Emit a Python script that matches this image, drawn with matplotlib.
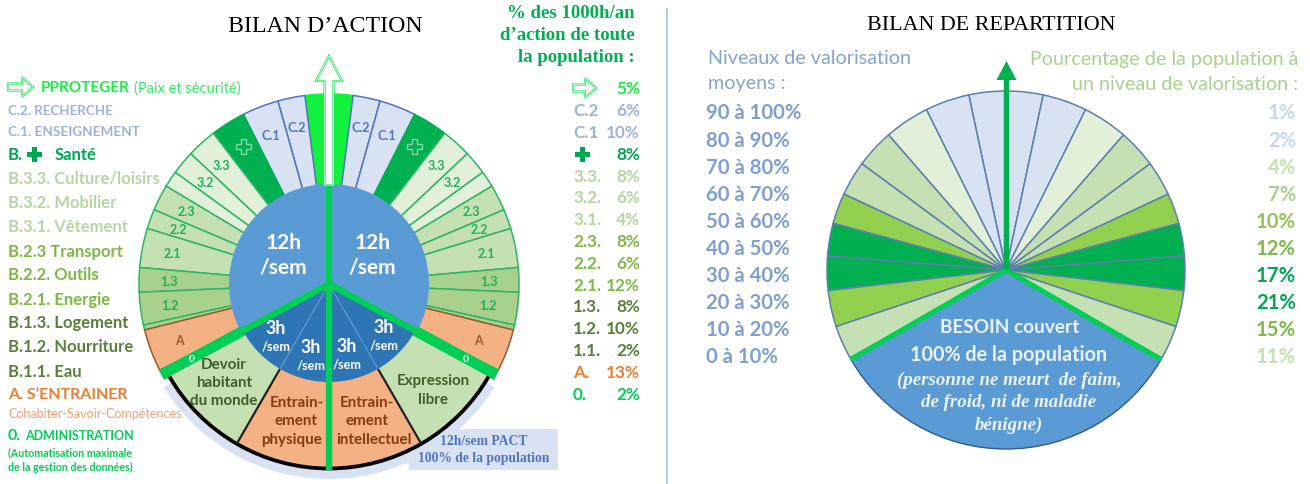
import numpy as np
import matplotlib
matplotlib.use('Agg')
import matplotlib.pyplot as plt
from matplotlib.patches import Wedge, Rectangle, Polygon, FancyArrow

# left wheel, clockwise from the top, degrees
ring_spans = [7.3, 8.3, 11.2, 10.7, 9.2, 7.3, 5, 8, 6, 12, 7.5, 10, 1.5, 13, 3]
ring_colors = ['#12F23C', '#D9E2F3', '#D9E2F3', '#00B050', '#E2EFD9', '#E2EFD9', '#E2EFD9',
               '#C5E0B3', '#C5E0B3', '#C5E0B3', '#A9D18E', '#A9D18E', '#A9D18E', '#F4B183', '#00CF55']
ring_edges = ['#12F23C', '#4F74C4', '#4F74C4', '#00B050', '#2DB565', '#2DB565', '#2DB565',
              '#2DB565', '#2DB565', '#2DB565', '#2DB565', '#2DB565', '#2DB565', '#9C5A2C', '#00CF55']
ring_labels = ['', 'C.2', 'C.1', '', '3.3', '3.2', '', '2.3', '2.2', '2.1', '1.3', '1.2', '', 'A', '0']
ring_label_colors = ['#000000', '#4F74C4', '#4F74C4', '#000000', '#1FAF5C', '#1FAF5C', '#000000',
                     '#1FAF5C', '#1FAF5C', '#1FAF5C', '#1FAF5C', '#1FAF5C', '#000000', '#9C5A2C', '#FFFFFF']

pact_colors = ['#C5E0B3', '#F4B183', '#F4B183', '#C5E0B3']
pact_lines = [('Expression', 433, 381, '#3F5F2A'), ('libre', 433, 400, '#3F5F2A'),
              ('Entrain-', 367, 403, '#843C0C'), ('ement', 367, 421, '#843C0C'), ('intellectuel', 374, 440, '#843C0C'),
              ('Entrain-', 297, 403, '#843C0C'), ('ement', 296, 421, '#843C0C'), ('physique', 292, 440, '#843C0C'),
              ('Devoir', 224, 365, '#3F5F2A'), ('habitant', 224, 383, '#3F5F2A'), ('du monde', 224, 401, '#3F5F2A')]

legend_rows = ['C.2. RECHERCHE', 'C.1. ENSEIGNEMENT', 'B.', 'B.3.3. Culture/loisirs', 'B.3.2. Mobilier',
               'B.3.1. Vêtement', 'B.2.3 Transport', 'B.2.2. Outils', 'B.2.1. Energie', 'B.1.3. Logement',
               'B.1.2. Nourriture', 'B.1.1. Eau', 'A. S’ENTRAINER']
legend_y = [111, 132, 155, 179, 203, 227, 252, 275, 300, 323, 347, 372, 395]
legend_sizes = [9.6, 9.7, 12, 12, 12, 12, 12, 12, 12, 12, 12, 12, 11.5]
legend_colors = ['#9DB2DE', '#9DB2DE', '#00A651', '#B7D5A3', '#B7D5A3', '#B7D5A3', '#7DB944', '#7DB944',
                 '#7DB944', '#58803A', '#58803A', '#58803A', '#ED7D31']

share_codes = ['', 'C.2', 'C.1', '', '3.3.', '3.2.', '3.1.', '2.3.', '2.2.', '2.1.', '1.3.', '1.2.', '1.1.', 'A.', '0.']
share_values = [5, 6, 10, 8, 8, 6, 4, 8, 6, 12, 8, 10, 2, 13, 2]
share_y = [89, 111, 133, 155, 177, 198, 220, 242, 264, 286, 307, 329, 351, 373, 395]
share_colors = ['#12F23C', '#9DB2DE', '#9DB2DE', '#00A651', '#B7D5A3', '#B7D5A3', '#B7D5A3', '#7DB944',
                '#7DB944', '#7DB944', '#58803A', '#58803A', '#58803A', '#ED7D31', '#00CF55']

# right pie
level_labels = ['90 à 100%', '80 à 90%', '70 à 80%', '60 à 70%', '50 à 60%', '40 à 50%', '30 à 40%',
                '20 à 30%', '10 à 20%', '0 à 10%']
level_values = [1, 2, 4, 7, 10, 12, 17, 21, 15, 11]
level_y = [113, 141, 168, 195, 222, 249, 276, 303, 330, 357]
level_spans = [12, 14.4, 14.6, 12.6, 11.3, 10, 10.6, 11.1, 11.8, 11]
level_colors = ['#D9E2F3', '#D9E2F3', '#E2EFD9', '#C5E0B3', '#C5E0B3', '#92D050', '#00B050', '#00B050',
                '#92D050', '#C5E0B3']
value_colors = ['#C7D6EE', '#C7D6EE', '#C5E0B3', '#A9D18E', '#92C353', '#7DB944', '#00A651', '#00A651',
                '#7DB944', '#C5E0B3']

SANS = 'Lato'
SERIF = 'Liberation Serif'
GREEN = '#00B050'
LAV = '#D9E2F3'

fig = plt.figure(figsize=(13.1, 4.85), dpi=100)
ax = fig.add_axes([0, 0, 1, 1])
ax.set_xlim(0, 1310)
ax.set_ylim(485, 0)
ax.axis('off')


def wedge(c, r, a1, a2, fc, ec='none', lw=0, z=2, width=None):
    # a1, a2 clockwise from the top
    ax.add_patch(Wedge(c, r, a1 - 90, a2 - 90, width=width, fc=fc, ec=ec, lw=lw, zorder=z))


def polar(c, r, a):
    t = np.radians(a - 90)
    return c[0] + r * np.cos(t), c[1] + r * np.sin(t)


def spoke(c, a, r0, r1, color, lw, z=5):
    x0, y0 = polar(c, r0, a)
    x1, y1 = polar(c, r1, a)
    ax.plot([x0, x1], [y0, y1], color=color, lw=lw, zorder=z, solid_capstyle='butt')


def txt(x, y, s, size, color, weight='normal', ha='left', family=SANS, style='normal', z=8):
    ax.text(x, y, s, fontsize=size, color=color, fontweight=weight, ha=ha, va='center',
            family=family, style=style, zorder=z)


def plus(x, y, s, fc, ec='none', z=7):
    a, b = s, s / 3
    pts = [(-b, -a), (b, -a), (b, -b), (a, -b), (a, b), (b, b), (b, a), (-b, a), (-b, b), (-a, b), (-a, -b), (-b, -b)]
    ax.add_patch(Polygon([(x + p[0], y + p[1]) for p in pts], fc=fc, ec=ec, lw=1, zorder=z))


def hollow_arrow(x, y, dx, dy, w, hw, hl, z=6):
    ax.add_patch(FancyArrow(x, y, dx, dy, width=w, head_width=hw, head_length=hl, length_includes_head=True,
                            fc='white', ec='#1FE65A', lw=1.6, zorder=z))
    ax.add_patch(FancyArrow(x, y, dx, dy, width=w, head_width=hw, head_length=hl, length_includes_head=True,
                            fc='none', ec='white', lw=0.5, zorder=z + 1))


# ---- left wheel
c1 = (329, 285)
R1 = 190
for side in [1, -1]:
    a = 0
    for span, col, edge, lab, lcol in zip(ring_spans, ring_colors, ring_edges, ring_labels, ring_label_colors):
        lo, hi = (a, a + span) if side == 1 else (-a - span, -a)
        wedge(c1, R1, lo, hi, col, ec=edge, lw=1.1)
        if lab and lab != '0':
            lx, ly = polar(c1, 160, side * (a + span / 2))
            txt(lx, ly, lab, 9, lcol, weight='bold', ha='center')
        a += span
    hx, hy = polar(c1, 162, side * 32)
    plus(hx, hy, 7.5, '#00B050', ec='#7FD8A7')

# bottom PACT quarter sectors
wedge(c1, 195, 122, 238, LAV, z=1, width=15)
ax.add_patch(Rectangle((409, 430), 149, 41, fc=LAV, ec='none', zorder=1))
txt(483.5, 442, '12h/sem PACT', 9.8, '#4F74C4', weight='bold', ha='center', family=SERIF)
txt(483.5, 459, '100% de la population', 9.8, '#4F74C4', weight='bold', ha='center', family=SERIF)
for i, col in enumerate(pact_colors):
    wedge(c1, 184, 120 + 30 * i, 150 + 30 * i, col, z=3)
for s, x, y, tcol in pact_lines:
    txt(x, y, s, 10.9, tcol, weight='bold', ha='center')
wedge(c1, 185, 120, 240, 'none', ec='black', lw=2, z=4, width=1)
wedge(c1, 98, 120, 240, '#2E75B6', z=5)
wedge(c1, 100, -120, 120, '#5B9BD5', z=5)
for a in [150, 210]:
    spoke(c1, a, 98, 184, '#222222', 1.6)
    spoke(c1, a, 0, 98, '#7FA8D6', 0.6, z=6)
spoke(c1, 180, 0, 186, '#00CF55', 4.6, z=6)
spoke(c1, 0, 0, 100, '#00CF55', 4.6, z=6)
for a in [118.5, 241.5]:
    spoke(c1, a, 0, 100, '#00CF55', 4.6, z=6)
    spoke(c1, a, 98, 190, '#00CF55', 7.5, z=6)
    lx, ly = polar(c1, 156, a)
    txt(lx, ly, '0', 7.5, 'white', weight='bold', ha='center')

hollow_arrow(329, 186, 0, -129, 9, 26, 25)

for x, s in [(284, '12h'), (373, '12h')]:
    txt(x, 243, s, 15, 'white', weight='bold', ha='center')
    txt(x - 1, 268, '/sem', 15, 'white', weight='bold', ha='center')
for x, y in [(276, 329), (311, 348), (347, 347), (384, 328)]:
    txt(x, y, '3h', 12.8, 'white', weight='bold', ha='center')
    txt(x, y + 18, '/sem', 9.2, 'white', weight='bold', ha='center')

txt(325, 26, 'BILAN D’ACTION', 17.2, 'black', ha='center', family=SERIF)
txt(635, 14, '% des 1000h/an', 13.5, GREEN, weight='bold', ha='right', family=SERIF)
txt(635, 36, 'd’action de toute', 13.5, GREEN, weight='bold', ha='right', family=SERIF)
txt(635, 58, 'la population :', 13.5, GREEN, weight='bold', ha='right', family=SERIF)

# legend of the wheel
hollow_arrow(8, 88, 25, 0, 7, 20, 11)
txt(41, 88, 'PPROTEGER', 11, '#12F23C', weight='bold')
txt(134, 89, '(Paix et sécurité)', 10.5, '#30EE60')
for s, y, col, size in zip(legend_rows, legend_y, legend_colors, legend_sizes):
    txt(8, y, s, size, col, weight='bold')
plus(34, 155, 7.5, '#00A651')
txt(55, 155, 'Santé', 12, '#00A651', weight='bold')
txt(8, 414, 'Cohabiter-Savoir-Compétences', 9, '#F4A06A')
txt(8, 436, '0.', 11.5, '#00CF55', weight='bold')
txt(25, 436, 'ADMINISTRATION', 9, '#00CF55', weight='bold')
txt(8, 453, '(Automatisation maximale', 7.7, '#00CF55', weight='bold')
txt(8, 467, 'de la gestion des données)', 7.7, '#00CF55', weight='bold')

for code, val, y, col in zip(share_codes, share_values, share_y, share_colors):
    if code:
        txt(573, y, code, 12.3, col, weight='bold')
    txt(640, y, f'{val}%', 12.3, col, weight='bold', ha='right')
hollow_arrow(573, 89, 23, 0, 7, 20, 11)
plus(582, 155, 7.5, '#00A651')

ax.plot([667, 667], [10, 485], color='#9DC3E6', lw=1.2)

# ---- right pie
c2 = (1006, 271)
R2 = 179
for side in [1, -1]:
    a = 0
    for span, col in zip(level_spans, level_colors):
        lo, hi = (a, a + span) if side == 1 else (-a - span, -a)
        wedge(c2, R2, lo, hi, col, ec='#5C7FAE', lw=1.1)
        a += span
wedge(c2, R2, 120, 240, '#5B9BD5', ec='#2F5C8F', lw=1, z=4)
for a in [120, 240]:
    spoke(c2, a, 0, R2, '#00CF55', 3.6, z=6)
ax.add_patch(FancyArrow(1006.5, 271, 0, -209, width=5.5, head_width=20, head_length=19, length_includes_head=True,
                        fc=GREEN, ec='none', zorder=7))

txt(1010, 328, 'BESOIN couvert', 13.7, '#EAF2FA', weight='bold', ha='center')
txt(1009, 355, '100% de la population', 14.2, '#EAF2FA', weight='bold', ha='center')
for y, s in [(380, '(personne ne meurt  de faim,'), (403, 'de froid, ni de maladie'), (425, 'bénigne)')]:
    txt(1009, y, s, 13.6, '#EAF2FA', weight='bold', ha='center', family=SERIF, style='italic')

txt(991, 26, 'BILAN DE REPARTITION', 15.8, 'black', ha='center', family=SERIF)
txt(708, 59, 'Niveaux de valorisation', 14.2, '#84A5CC')
txt(708, 84, 'moyens :', 14.2, '#84A5CC')
txt(1298, 59, 'Pourcentage de la population à', 14.2, '#A9D18E', ha='right')
txt(1298, 84, 'un niveau de valorisation :', 14.2, '#A9D18E', ha='right')
for lab, val, y, col in zip(level_labels, level_values, level_y, value_colors):
    txt(706, y, lab, 14.6, '#7F9FD2', weight='bold')
    txt(1296, y, f'{val}%', 14.6, col, weight='bold', ha='right')

fig.savefig('out.png', dpi=100)
